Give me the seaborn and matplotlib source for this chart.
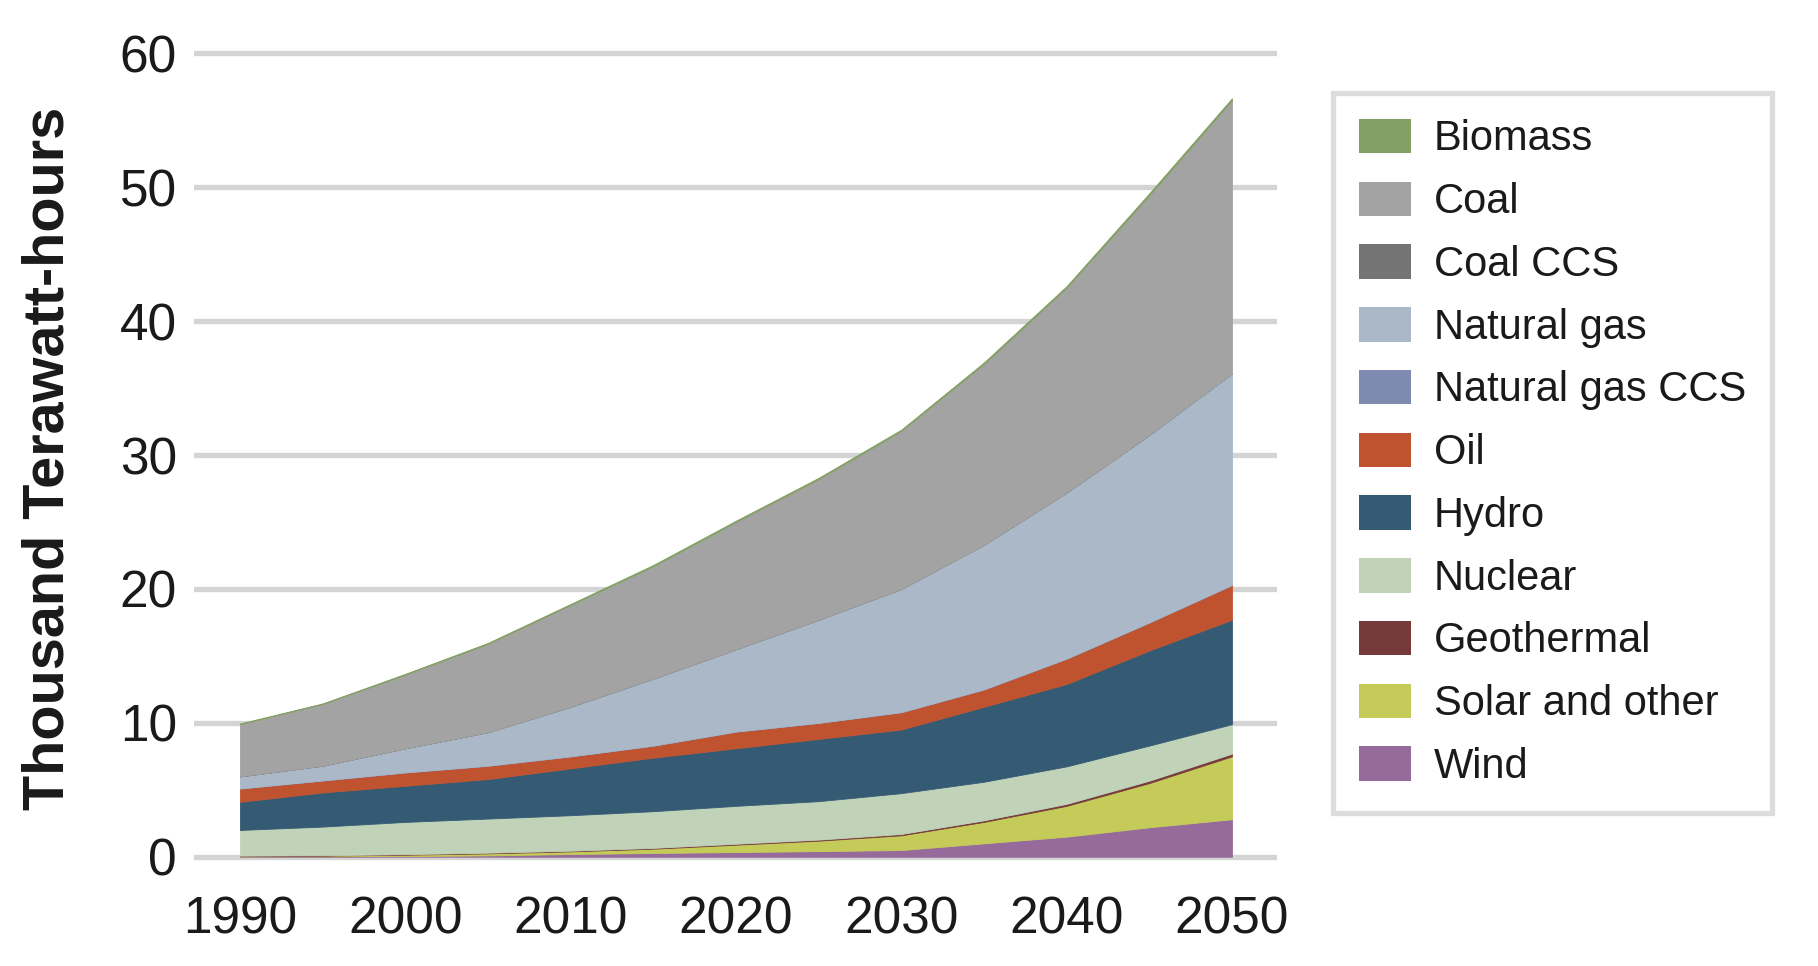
import matplotlib
matplotlib.use("Agg")
import matplotlib.pyplot as plt
import seaborn as sns
import numpy as np
from matplotlib.patches import Patch

sns.set_theme(style="white")
plt.rcParams['font.family'] = ['Liberation Sans', 'DejaVu Sans']

years = [1990, 1995, 2000, 2005, 2010, 2015, 2020, 2025, 2030, 2035, 2040, 2045, 2050]

# Thousand TWh, per source (bottom to top of the stack)
wind       = [0.02, 0.03, 0.05, 0.10, 0.20, 0.28, 0.35, 0.42, 0.50, 1.00, 1.50, 2.20, 2.80]
solar      = [0.03, 0.05, 0.10, 0.15, 0.20, 0.32, 0.55, 0.78, 1.10, 1.60, 2.30, 3.30, 4.70]
geothermal = [0.03, 0.03, 0.04, 0.05, 0.05, 0.06, 0.07, 0.08, 0.10, 0.12, 0.15, 0.18, 0.20]
nuclear    = [1.92, 2.14, 2.41, 2.55, 2.65, 2.74, 2.83, 2.87, 3.05, 2.88, 2.80, 2.62, 2.20]
hydro      = [2.10, 2.55, 2.70, 2.95, 3.50, 4.00, 4.30, 4.65, 4.75, 5.60, 6.15, 7.10, 7.80]
oil        = [1.00, 0.90, 1.00, 1.00, 0.90, 0.90, 1.25, 1.20, 1.30, 1.30, 1.90, 2.10, 2.60]
ng_ccs     = [0.00, 0.00, 0.00, 0.00, 0.00, 0.00, 0.00, 0.00, 0.00, 0.00, 0.00, 0.00, 0.00]
natgas     = [0.90, 1.10, 1.80, 2.50, 3.70, 5.00, 6.15, 7.70, 9.20, 10.80, 12.40, 14.00, 15.80]
coal_ccs   = [0.00, 0.00, 0.00, 0.00, 0.00, 0.00, 0.00, 0.00, 0.00, 0.00, 0.00, 0.00, 0.00]
coal       = [3.90, 4.60, 5.50, 6.60, 7.60, 8.40, 9.50, 10.50, 11.80, 13.50, 15.30, 17.90, 20.40]
biomass    = [0.05, 0.05, 0.06, 0.07, 0.08, 0.09, 0.10, 0.10, 0.10, 0.12, 0.12, 0.15, 0.15]

labels_stack = ["Wind", "Solar and other", "Geothermal", "Nuclear", "Hydro", "Oil",
                "Natural gas CCS", "Natural gas", "Coal CCS", "Coal", "Biomass"]
series_stack = [wind, solar, geothermal, nuclear, hydro, oil, ng_ccs, natgas, coal_ccs, coal, biomass]
colors = {
    "Biomass": "#84a064",
    "Coal": "#a3a3a3",
    "Coal CCS": "#747474",
    "Natural gas": "#abb8c7",
    "Natural gas CCS": "#7f8ab0",
    "Oil": "#c0532f",
    "Hydro": "#345b73",
    "Nuclear": "#c0d3b8",
    "Geothermal": "#773a3b",
    "Solar and other": "#c4cb58",
    "Wind": "#966b9c",
}
legend_order = ["Biomass", "Coal", "Coal CCS", "Natural gas", "Natural gas CCS", "Oil",
                "Hydro", "Nuclear", "Geothermal", "Solar and other", "Wind"]

fig = plt.figure(figsize=(18.18, 9.66), dpi=100)
ax = fig.add_axes([0.1065, 0.1048, 0.5957, 0.8483])

for yv in range(0, 61, 10):
    ax.axhline(yv, color="#d4d4d4", lw=3.8, solid_capstyle="round", zorder=0)

polys = ax.stackplot(years, *series_stack,
                     colors=[colors[l] for l in labels_stack], zorder=2)
for p, l in zip(polys, labels_stack):
    p.set_edgecolor(colors[l])
    p.set_linewidth(0.6)

ax.set_xlim(1987.2, 2052.7)
ax.set_ylim(-0.6, 60.6)
ax.set_xticks(range(1990, 2051, 10))
ax.set_yticks(range(0, 61, 10))
ax.tick_params(axis="both", length=0, labelsize=37, colors="#1a1a1a")
ax.tick_params(axis="y", pad=12)
ax.tick_params(axis="x", pad=22)
for s in ax.spines.values():
    s.set_visible(False)
ax.grid(False)

fig.text(49 / 1818, 1 - 458 / 966, "Thousand Terawatt-hours", rotation=90,
         ha="center", va="center", fontsize=41.5, fontweight="bold", color="#1a1a1a")

handles = [Patch(facecolor=colors[l], edgecolor="none") for l in legend_order]
leg = fig.legend(handles, legend_order, loc="upper left",
                 bbox_to_anchor=(1333 / 1818, 1 - 93 / 966),
                 fontsize=30, frameon=True, fancybox=False,
                 handlelength=1.25, handleheight=0.9, handletextpad=0.55,
                 labelspacing=0.53, borderpad=0.62, borderaxespad=0)
fr = leg.get_frame()
fr.set_edgecolor("#d4d4d4")
fr.set_linewidth(3.8)
for t in leg.get_texts():
    t.set_color("#1a1a1a")

fig.savefig("out.png", dpi=100)
